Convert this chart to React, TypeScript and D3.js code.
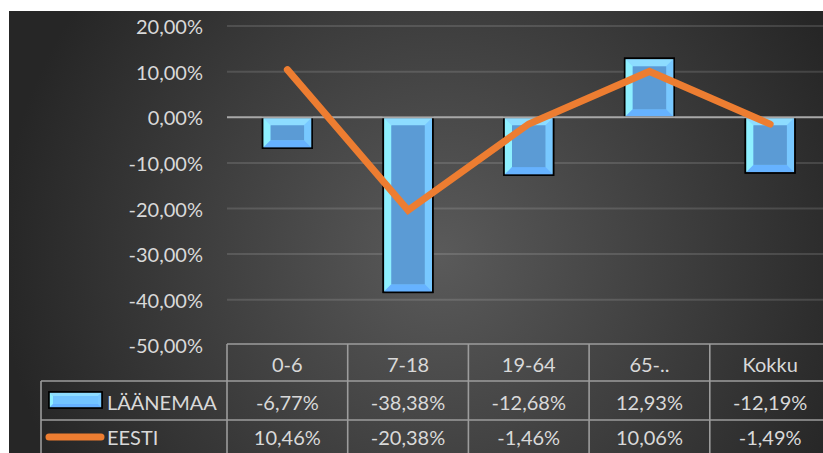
import React from "react";
import * as d3 from "d3";

const categories = ["0-6", "7-18", "19-64", "65-..", "Kokku"];
const laanemaa = [-6.77, -38.38, -12.68, 12.93, -12.19];
const eesti = [10.46, -20.38, -1.46, 10.06, -1.49];
const yTicks = [20, 10, 0, -10, -20, -30, -40, -50];
const seriesNames = ["LÄÄNEMAA", "EESTI"];

const W = 823;
const H = 453;
const FONT = "Lato, 'Open Sans', sans-serif";
const TXT = "#d9d9d9";

const fmt = (v: number) => v.toFixed(2).replace(".", ",") + "%";

function BevelRect({ x0, y0, x1, y1, b, inner = "#5b9bd5" }: { x0: number; y0: number; x1: number; y1: number; b: number; inner?: string }) {
  const bb = Math.min(b, (y1 - y0) / 2, (x1 - x0) / 2);
  const ix0 = x0 + bb, iy0 = y0 + bb, ix1 = x1 - bb, iy1 = y1 - bb;
  const pts = (a: number[][]) => a.map((p) => p.join(",")).join(" ");
  return (
    <g>
      <rect x={x0} y={y0} width={x1 - x0} height={y1 - y0} fill="#7fd0ff" stroke="#000" strokeWidth={1.6} />
      <polygon points={pts([[x0, y0], [x1, y0], [ix1, iy0], [ix0, iy0]])} fill="#8ddcff" />
      <polygon points={pts([[x0, y0], [ix0, iy0], [ix0, iy1], [x0, y1]])} fill="#8ef0ff" />
      <polygon points={pts([[x1, y0], [x1, y1], [ix1, iy1], [ix1, iy0]])} fill="#78c8ff" />
      <polygon points={pts([[x0, y1], [ix0, iy1], [ix1, iy1], [x1, y1]])} fill="#66b2ff" />
      <rect x={ix0} y={iy0} width={ix1 - ix0} height={iy1 - iy0} fill={inner} />
      <rect x={x0} y={y0} width={x1 - x0} height={y1 - y0} fill="none" stroke="#000" strokeWidth={1.6} />
    </g>
  );
}

export default function App() {
  const plotLeft = 227;
  const plotRight = 830.5;
  const x = d3.scaleBand<string>().domain(categories).range([plotLeft, plotRight]).paddingInner(0).paddingOuter(0);
  const y = d3.scaleLinear().domain([-50, 20]).range([345.3, 26.1]);
  const bw = x.bandwidth();
  const barW = bw * 0.41;
  const cx = (c: string) => (x(c) as number) + bw / 2;

  const line = d3
    .line<number>()
    .x((_, i) => cx(categories[i]))
    .y((v) => y(v));

  const tableTop = 344;
  const row1 = 381;
  const row2 = 420;
  const tableLeft = 41;
  const gridColor = "rgba(255,255,255,0.13)";
  const tableColor = "#9c9c9c";

  return (
    <svg width={W} height={H} style={{ position: "absolute", left: 0, top: 0, display: "block" }}>
      <defs>
        <radialGradient id="bg" gradientUnits="userSpaceOnUse" cx={440} cy={255} r={440}>
          <stop offset="0" stopColor="#5a5a5a" />
          <stop offset="1" stopColor="#262626" />
        </radialGradient>
      </defs>
      <rect x={0} y={0} width={W} height={H} fill="#fff" />
      <rect x={9} y={11} width={W - 9} height={H - 11} fill="url(#bg)" />

      {yTicks.map((t) =>
        t === 0 || t === -50 ? null : (
          <line key={"g" + t} x1={plotLeft} x2={W} y1={y(t)} y2={y(t)} stroke={gridColor} strokeWidth={2} />
        )
      )}

      {yTicks.map((t) => (
        <text
          key={"t" + t}
          x={203}
          y={y(t)}
          textAnchor="end"
          dominantBaseline="central"
          fill={TXT}
          fontFamily={FONT}
          fontSize={20}
        >
          {fmt(t)}
        </text>
      ))}

      {categories.map((c, i) => {
        const v = laanemaa[i];
        const x0 = cx(c) - barW / 2;
        const x1 = cx(c) + barW / 2;
        const ya = y(Math.max(0, v));
        const yb = y(Math.min(0, v));
        return <BevelRect key={"b" + c} x0={x0} y0={ya} x1={x1} y1={yb} b={8} />;
      })}

      <line x1={plotLeft} x2={W} y1={y(0)} y2={y(0)} stroke="#a8a8a8" strokeWidth={2} />

      <path
        d={line(eesti) || ""}
        fill="none"
        stroke="#ed7d31"
        strokeWidth={7}
        strokeLinecap="round"
        strokeLinejoin="miter"
      />

      {/* data table */}
      <g stroke={tableColor} strokeWidth={1.6}>
        <line x1={plotLeft} x2={W} y1={tableTop} y2={tableTop} />
        <line x1={tableLeft} x2={W} y1={row1} y2={row1} />
        <line x1={tableLeft} x2={W} y1={row2} y2={row2} />
        <line x1={tableLeft} x2={tableLeft} y1={row1} y2={H} />
        {categories.map((c) => (
          <line key={"v" + c} x1={x(c) as number} x2={x(c) as number} y1={tableTop} y2={H} />
        ))}
      </g>

      {categories.map((c) => (
        <text key={"h" + c} x={cx(c)} y={(tableTop + row1) / 2 + 1} textAnchor="middle" dominantBaseline="central" fill={TXT} fontFamily={FONT} fontSize={20}>
          {c}
        </text>
      ))}
      {categories.map((c, i) => (
        <text key={"r1" + c} x={cx(c)} y={(row1 + row2) / 2 + 1} textAnchor="middle" dominantBaseline="central" fill={TXT} fontFamily={FONT} fontSize={20}>
          {fmt(laanemaa[i])}
        </text>
      ))}
      {categories.map((c, i) => (
        <text key={"r2" + c} x={cx(c)} y={437} textAnchor="middle" dominantBaseline="central" fill={TXT} fontFamily={FONT} fontSize={20}>
          {fmt(eesti[i])}
        </text>
      ))}

      {/* legend keys */}
      <BevelRect x0={49} y0={392} x1={102} y1={408} b={4} inner="#72c4ff" />
      <line x1={49} x2={101} y1={437} y2={437} stroke="#ed7d31" strokeWidth={7} strokeLinecap="round" />
      <text x={107} y={(row1 + row2) / 2 + 1} dominantBaseline="central" fill={TXT} fontFamily={FONT} fontSize={20}>
        {seriesNames[0]}
      </text>
      <text x={107} y={437} dominantBaseline="central" fill={TXT} fontFamily={FONT} fontSize={20}>
        {seriesNames[1]}
      </text>
    </svg>
  );
}
